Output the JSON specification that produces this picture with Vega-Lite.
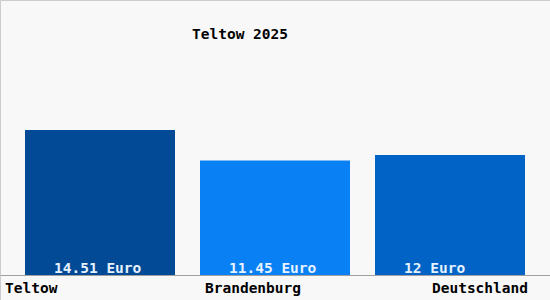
{
  "$schema": "https://vega.github.io/schema/vega-lite/v6.json",
  "width": 550,
  "height": 300,
  "padding": 0,
  "autosize": {"type": "none"},
  "background": "#f8f8f8",
  "config": {
    "view": {"stroke": "#cccccc", "strokeWidth": 1},
    "font": "DejaVu Sans Mono"
  },
  "title": {
    "text": "Teltow 2025",
    "anchor": "middle",
    "dx": -35,
    "dy": 46,
    "font": "DejaVu Sans Mono",
    "fontSize": 14.5,
    "fontWeight": "bold",
    "color": "#000000"
  },
  "data": {
    "values": [
      {"region": "Teltow", "wert": 14.51, "label": "14.51 Euro"},
      {"region": "Brandenburg", "wert": 11.45, "label": "11.45 Euro"},
      {"region": "Deutschland", "wert": 12, "label": "12 Euro"}
    ]
  },
  "encoding": {
    "x": {
      "field": "region",
      "type": "nominal",
      "sort": null,
      "scale": {"paddingInner": 0.142857, "paddingOuter": 0.142857},
      "axis": {
        "title": null,
        "offset": -25,
        "ticks": false,
        "domainColor": "#a0a0a0",
        "domainWidth": 1,
        "labelFont": "DejaVu Sans Mono",
        "labelFontSize": 14.5,
        "labelFontWeight": "bold",
        "labelColor": "#000000",
        "labelPadding": 6,
        "labelAngle": 0,
        "labelAlign": {
          "condition": [
            {"test": "datum.value === 'Teltow'", "value": "left"},
            {"test": "datum.value === 'Deutschland'", "value": "right"}
          ],
          "value": "center"
        },
        "labelOffset": {
          "condition": [
            {"test": "datum.value === 'Teltow'", "value": -95},
            {"test": "datum.value === 'Deutschland'", "value": 78}
          ],
          "value": -22
        }
      }
    }
  },
  "layer": [
    {
      "mark": {"type": "bar"},
      "encoding": {
        "y": {
          "field": "wert",
          "type": "quantitative",
          "scale": {"domain": [-2.5, 27.5], "nice": false, "zero": false},
          "axis": null
        },
        "y2": {"datum": 0},
        "color": {
          "field": "region",
          "type": "nominal",
          "scale": {
            "domain": ["Teltow", "Brandenburg", "Deutschland"],
            "range": ["#034a96", "#0a80f5", "#0063c5"]
          },
          "legend": null
        }
      }
    },
    {
      "mark": {
        "type": "text",
        "align": "left",
        "baseline": "alphabetic",
        "dx": 29,
        "dy": -2,
        "font": "DejaVu Sans Mono",
        "fontSize": 14.5,
        "fontWeight": "bold",
        "color": "#e6f2ff"
      },
      "encoding": {
        "x": {"field": "region", "type": "nominal", "sort": null, "bandPosition": 0},
        "y": {"datum": 0, "type": "quantitative"},
        "text": {"field": "label"}
      }
    }
  ]
}
